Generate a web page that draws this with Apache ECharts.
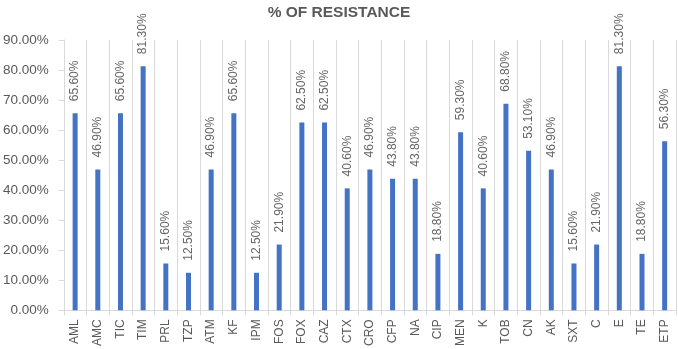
<!DOCTYPE html>
<html><head><meta charset="utf-8">
<script src="https://cdn.jsdelivr.net/npm/echarts@6/dist/echarts.min.js"></script>
<style>html,body{margin:0;padding:0;background:#fff}#c{width:678px;height:349px}</style>
</head><body><div id="c"></div>
<script>
const categories = ['AML','AMC','TIC','TIM','PRL','TZP','ATM','KF','IPM','FOS','FOX','CAZ','CTX','CRO','CFP','NA','CIP','MEN','K','TOB','CN','AK','SXT','C','E','TE','ETP'];
const resistance = [65.6,46.9,65.6,81.3,15.6,12.5,46.9,65.6,12.5,21.9,62.5,62.5,40.6,46.9,43.8,43.8,18.8,59.3,40.6,68.8,53.1,46.9,15.6,21.9,81.3,18.8,56.3];
const yTicks = [0,10,20,30,40,50,60,70,80,90];
const titleText = '% OF RESISTANCE';

const font = 'Liberation Sans, Arial, sans-serif';
const chart = echarts.init(document.getElementById('c'), null, {renderer:'canvas'});
chart.setOption({
  animation:false,
  title:{text:titleText,left:'center',top:0,textStyle:{fontFamily:font,fontSize:15.5,fontWeight:'bold',color:'#595959'}},
  grid:{left:62,right:2,top:40,bottom:37,containLabel:false},
  xAxis:{type:'category',data:categories,boundaryGap:true,
    axisLine:{show:true,lineStyle:{color:'#d9d9d9'}},
    axisTick:{show:true,length:5,lineStyle:{color:'#d9d9d9'}},
    splitLine:{show:true,lineStyle:{color:'#d9d9d9'}},
    axisLabel:{interval:0,rotate:90,color:'#595959',fontFamily:font,fontSize:12,margin:9}},
  yAxis:{type:'value',min:yTicks[0],max:yTicks[yTicks.length-1],interval:10,
    axisLine:{show:true,lineStyle:{color:'#d9d9d9'}},
    axisTick:{show:true,length:5,lineStyle:{color:'#d9d9d9'}},
    splitLine:{show:false},
    axisLabel:{color:'#595959',fontFamily:font,fontSize:13.5,margin:15,formatter:v=>v.toFixed(2)+'%'}},
  series:[{type:'bar',data:resistance,barWidth:5,itemStyle:{color:'#4472c4'},
    label:{show:true,position:'top',rotate:90,align:'left',verticalAlign:'middle',distance:12,
      color:'#666666',fontFamily:font,fontSize:12,formatter:p=>p.value.toFixed(2)+'%'}}]
});
</script></body></html>
